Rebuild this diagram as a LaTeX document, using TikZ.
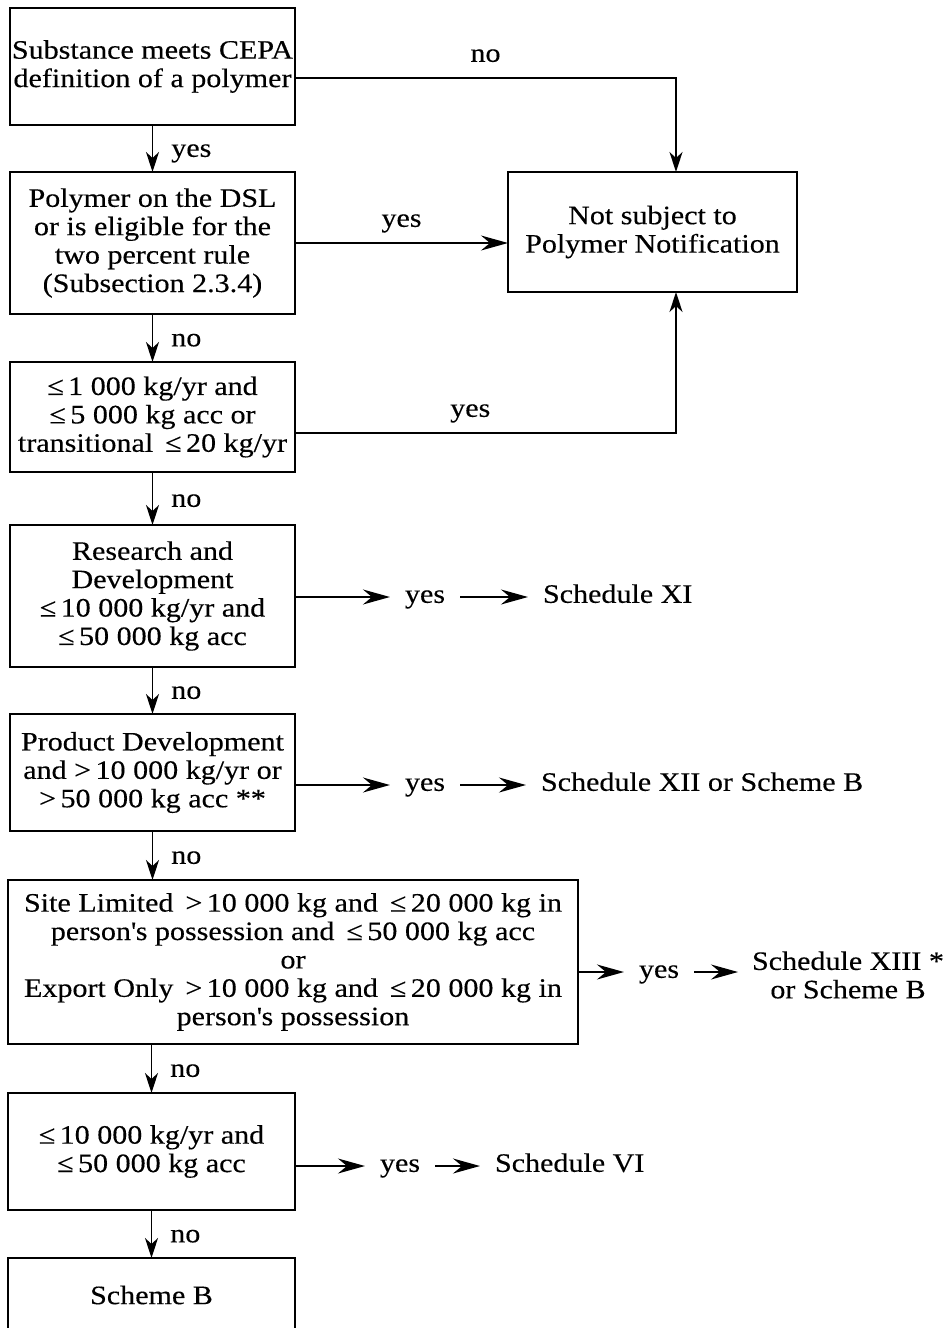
\documentclass[tikz,border=0pt]{standalone}
\usepackage{fontspec}
\setmainfont{Liberation Serif}[FakeStretch=1.13, FakeBold=0.3]
\usetikzlibrary{arrows.meta}
\tikzset{
  box/.style={draw, line width=0.9pt, align=center, inner sep=0pt, outer sep=0pt},
  vlbl/.style={anchor=west, inner sep=0pt, xshift=9pt, yshift=-2.5pt, text height=6pt, text depth=2.7pt},
  hlbl/.style={above=5pt, inner sep=0pt, text height=6pt, text depth=2.7pt},
  arrV/.style={-{Stealth[length=10pt,width=6.5pt,inset=3pt]}, line width=0.8pt},
  arrH/.style={-{Stealth[length=13.5pt,width=7.5pt,inset=4.5pt]}, line width=0.8pt},
  chain/.style={inner xsep=7.5pt, inner ysep=0pt, outer sep=0pt, text height=8.5pt, text depth=2.7pt},
  result/.style={inner xsep=7pt, inner ysep=0pt, outer sep=0pt, align=center}
}
\newcommand{\apos}{\textquotesingle}
\begin{document}
\begin{tikzpicture}[x=0.5pt,y=-0.5pt,font=\fontsize{13.3pt}{14.2pt}\selectfont]
\useasboundingbox (0,0) rectangle (951,1328);

% decision boxes down the left side
\node[box, minimum width=142.5pt, minimum height=58.5pt] (b1) at (152.5,66.5)
  {Substance meets CEPA\\definition of a polymer};
\node[box, minimum width=142.5pt, minimum height=71pt] (b2) at (152.5,243)
  {Polymer on the DSL\\or is eligible for the\\two percent rule\\(Subsection 2.3.4)};
\node[box, minimum width=144.5pt, minimum height=60pt] (ns) at (652.5,232)
  {Not subject to\\Polymer Notification};
\node[box, minimum width=142.5pt, minimum height=55pt] (b3) at (152.5,417)
  {≤\,1 000 kg/yr and\\≤\,5 000 kg acc or\\transitional \,≤\,20 kg/yr};
\node[box, minimum width=142.5pt, minimum height=71pt] (b4) at (152.5,596)
  {Research and\\Development\\≤\,10 000 kg/yr and\\≤\,50 000 kg acc};
\node[box, minimum width=142.5pt, minimum height=58.5pt] (b5) at (152.5,772.5)
  {Product Development\\and >\,10 000 kg/yr or\\>\,50 000 kg acc **};
\node[box, minimum width=285pt, minimum height=82pt] (b6) at (293,962)
  {Site Limited \,>\,10 000 kg and \,≤\,20 000 kg in\\person\apos s possession and \,≤\,50 000 kg acc\\or\\Export Only \,>\,10 000 kg and \,≤\,20 000 kg in\\person\apos s possession};
\node[box, minimum width=143.5pt, minimum height=58.5pt] (b7) at (151.5,1151.5)
  {≤\,10 000 kg/yr and\\≤\,50 000 kg acc};
\node[box, minimum width=143.5pt, minimum height=37pt] (b8) at (151.5,1295)
  {Scheme B};

% main downward flow
\draw[arrV] (b1) -- node[vlbl] (l1) {yes} (b2);
\draw[arrV] (b2) -- node[vlbl] (l2) {no} (b3);
\draw[arrV] (b3) -- node[vlbl] (l3) {no} (b4);
\draw[arrV] (b4) -- node[vlbl] (l4) {no} (b5);
\draw[arrV] (b5.south) -- node[vlbl] (l5) {no} (b5.south |- b6.north);
\draw[arrV] (b6.south -| b7.north) -- node[vlbl] (l6) {no} (b7.north);
\draw[arrV] (b7) -- node[vlbl] (l7) {no} (b8);

% exits to "Not subject to Polymer Notification"
\draw[arrV] ([yshift=-5.75pt]b1.east) -| node[hlbl, pos=0.25] (l8) {no} ([xshift=11.75pt]ns.north);
\draw[arrH] (b2.east) -- node[hlbl] (l9) {yes} (b2.east -| ns.west);
\draw[arrV] ([yshift=-8pt]b3.east) -| node[hlbl, pos=0.23] (l10) {yes} ([xshift=11.75pt]ns.south);

% schedule outcomes
\node[chain] (y4) at (425,597) {yes};
\node[chain, anchor=west] (s4) at (528,597) {Schedule XI};
\draw[arrH] (b4.east |- y4) -- (y4);
\draw[arrH] (y4) -- (y4 -| s4.west);

\node[chain] (y5) at (425,785) {yes};
\node[chain, anchor=west] (s5) at (526,785) {Schedule XII or Scheme B};
\draw[arrH] (b5.east |- y5) -- (y5);
\draw[arrH] (y5) -- (y5 -| s5.west);

\node[chain] (y6) at (659,972) {yes};
\node[result] (s6) at (848,975) {Schedule XIII *\\or Scheme B};
\draw[arrH] (b6.east |- y6) -- (y6);
\draw[arrH] (y6) -- (y6 -| s6.west);

\node[chain] (y7) at (400,1166) {yes};
\node[chain, anchor=west] (s7) at (480,1166) {Schedule VI};
\draw[arrH] (b7.east |- y7) -- (y7);
\draw[arrH] (y7) -- (y7 -| s7.west);
\end{tikzpicture}
\end{document}
